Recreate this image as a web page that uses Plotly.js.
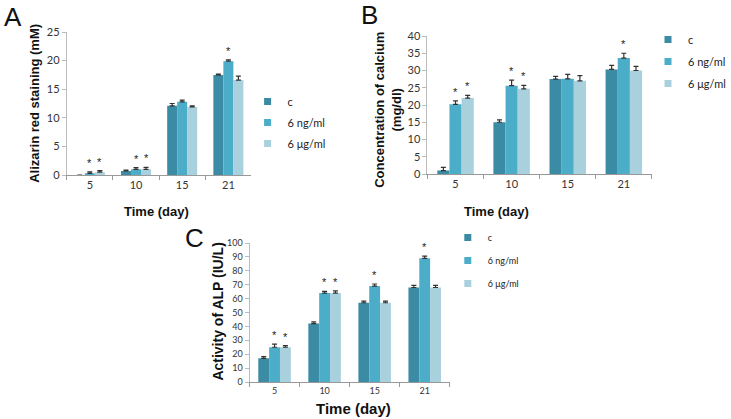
<!DOCTYPE html>
<html><head><meta charset="utf-8">
<script src="https://cdn.plot.ly/plotly-3.0.1.min.js"></script>
<style>html,body{margin:0;padding:0;background:#fff}#chart{width:731px;height:419px}</style>
</head><body><div id="chart"></div>
<script>
const categories = ['5', '10', '15', '21'];
const seriesNames = ['c', '6 ng/ml', '6 μg/ml'];
const seriesColors = ['#3a8ba3', '#4badc7', '#a9d0dd'];

// Panel A: Alizarin red staining (mM)
const alizarinC = [0, 0.7, 12.1, 17.5];
const alizarinNg = [0.3, 1.0, 12.8, 19.9];
const alizarinUg = [0.5, 1.0, 11.9, 16.6];
const alizarinCErr = [0, 0.15, 0.4, 0.15];
const alizarinNgErr = [0.25, 0.3, 0.3, 0.25];
const alizarinUgErr = [0.25, 0.35, 0.2, 0.7];
const alizarinCSig = [0, 0, 0, 0];
const alizarinNgSig = [1, 1, 0, 1];
const alizarinUgSig = [1, 1, 0, 0];

// Panel B: Concentration of calcium (mg/dl)
const calciumC = [1.0, 15.0, 27.5, 30.3];
const calciumNg = [20.2, 25.6, 27.6, 33.6];
const calciumUg = [22.0, 24.7, 27.0, 30.0];
const calciumCErr = [0.9, 0.7, 0.8, 1.2];
const calciumNgErr = [1.0, 1.6, 1.3, 1.4];
const calciumUgErr = [0.8, 1.0, 1.5, 1.2];
const calciumCSig = [0, 0, 0, 0];
const calciumNgSig = [1, 1, 0, 1];
const calciumUgSig = [1, 1, 0, 0];

// Panel C: Activity of ALP (IU/L)
const alpC = [17, 42, 57, 68];
const alpNg = [25, 64, 69, 89];
const alpUg = [25, 64, 57, 68];
const alpCErr = [1.2, 1.2, 1.2, 1.5];
const alpNgErr = [2.2, 1.2, 1.5, 1.5];
const alpUgErr = [1.2, 1.5, 1.2, 1.5];
const alpCSig = [0, 0, 0, 0];
const alpNgSig = [1, 1, 1, 1];
const alpUgSig = [1, 1, 0, 0];

const W = 731, H = 419;
const BARGAP = 0.35;
const px = v => v / W;
const py = v => 1 - v / H;

const panels = [
  {ax: '', vals: [alizarinC, alizarinNg, alizarinUg], errs: [alizarinCErr, alizarinNgErr, alizarinUgErr],
   sig: [alizarinCSig, alizarinNgSig, alizarinUgSig], legend: 'legend'},
  {ax: '2', vals: [calciumC, calciumNg, calciumUg], errs: [calciumCErr, calciumNgErr, calciumUgErr],
   sig: [calciumCSig, calciumNgSig, calciumUgSig], legend: 'legend2'},
  {ax: '3', vals: [alpC, alpNg, alpUg], errs: [alpCErr, alpNgErr, alpUgErr],
   sig: [alpCSig, alpNgSig, alpUgSig], legend: 'legend3'}
];

const traces = [];
const annotations = [];
panels.forEach(p => {
  p.vals.forEach((v, j) => {
    traces.push({
      type: 'bar', x: categories, y: v, name: seriesNames[j],
      xaxis: 'x' + p.ax, yaxis: 'y' + p.ax, showlegend: false,
      marker: {color: seriesColors[j], line: {width: 0}},
      error_y: {type: 'data', symmetric: false, array: p.errs[j], arrayminus: v.map(() => 0),
        color: '#333', thickness: 1.2, width: 2.5},
      hoverinfo: 'skip'
    });
    // legend entry
    traces.push({
      type: 'scatter', mode: 'markers', x: [null], y: [null], name: seriesNames[j],
      xaxis: 'x' + p.ax, yaxis: 'y' + p.ax, legend: p.legend, legendgroup: p.legend + j,
      marker: {symbol: 'square', size: 7, color: seriesColors[j]}
    });
    const w = (1 - BARGAP) / 3;
    p.sig[j].forEach((s, i) => {
      if (s) annotations.push({
        xref: 'x' + p.ax, yref: 'y' + p.ax, x: i + (j - 1) * w, y: v[i] + p.errs[j][i],
        text: '*', showarrow: false, xanchor: 'center', yanchor: 'bottom', yshift: 1,
        font: {family: 'Liberation Sans, Arial', size: 11, color: '#222'}
      });
    });
  });
});

function xAxis(d0, d1, anchor, fs) {
  return {type: 'category', domain: [px(d0), px(d1)], anchor: anchor, tickson: 'boundaries',
    ticks: 'outside', ticklen: 4, tickcolor: '#999', showline: true, linecolor: '#999', linewidth: 1,
    showgrid: false, zeroline: false, fixedrange: true,
    tickfont: {family: 'Lato, Open Sans, sans-serif', size: fs, color: '#333'}};
}
function yAxis(top, bottom, range, dtick, anchor, fs) {
  return {domain: [py(bottom), py(top)], range: range, dtick: dtick, anchor: anchor,
    ticks: 'outside', ticklen: 4, tickcolor: '#bbb', showline: true, linecolor: '#bbb', linewidth: 1,
    showgrid: false, zeroline: false, fixedrange: true,
    tickfont: {family: 'Lato, Open Sans, sans-serif', size: fs, color: '#333'}};
}

const titleFont = {family: 'Liberation Sans, Arial', size: 13, color: '#111'};
const letterFont = {family: 'Liberation Sans, Arial', size: 26, color: '#111'};
function note(x, y, text, font, angle) {
  return {xref: 'paper', yref: 'paper', x: px(x), y: py(y), text: text, showarrow: false,
    xanchor: 'center', yanchor: 'middle', textangle: angle || 0, font: font};
}
annotations.push(
  note(13, 17, 'A', letterFont),
  note(382, 15, 'B', letterFont),
  note(201, 238, 'C', letterFont),
  note(35, 103, '<b>Alizarin red staining (mM)</b>', titleFont, -90),
  note(162, 211, '<b>Time (day)</b>', titleFont),
  note(401, 110, '<b>Concentration of calcium<br>(mg/dl)</b>', titleFont, -90),
  note(513, 211, '<b>Time (day)</b>', titleFont),
  note(225, 312, '<b>Activity of ALP (IU/L)</b>', {family: 'Liberation Sans, Arial', size: 14, color: '#111'}, -90),
  note(366, 408, '<b>Time (day)</b>', {family: 'Liberation Sans, Arial', size: 15, color: '#111'})
);

function legendCfg(x, y, fs, gap) {
  return {x: px(x), y: py(y), xanchor: 'left', yanchor: 'top', bgcolor: 'rgba(0,0,0,0)', borderwidth: 0,
    traceorder: 'grouped', tracegroupgap: gap, itemwidth: 30,
    font: {family: 'Lato, Open Sans, sans-serif', size: fs, color: '#222'}};
}

const layout = {
  width: W, height: H, margin: {l: 0, r: 0, t: 0, b: 0}, paper_bgcolor: '#fff', plot_bgcolor: '#fff',
  barmode: 'group', bargap: BARGAP, bargroupgap: 0, showlegend: true,
  xaxis: xAxis(69, 260, 'y', 11),
  yaxis: yAxis(32, 175, [0, 25], 5, 'x', 11),
  xaxis2: xAxis(442, 674, 'y2', 11),
  yaxis2: yAxis(36, 174, [0, 40], 5, 'x2', 11),
  xaxis3: xAxis(258, 465, 'y3', 9),
  yaxis3: yAxis(243, 382, [0, 100], 10, 'x3', 9),
  legend: legendCfg(256, 87, 11, 2),
  legend2: legendCfg(670, 25, 11, 3),
  legend3: legendCfg(463, 223, 9, 4),
  annotations: annotations
};

Plotly.newPlot('chart', traces, layout, {staticPlot: true, displayModeBar: false});
</script></body></html>
